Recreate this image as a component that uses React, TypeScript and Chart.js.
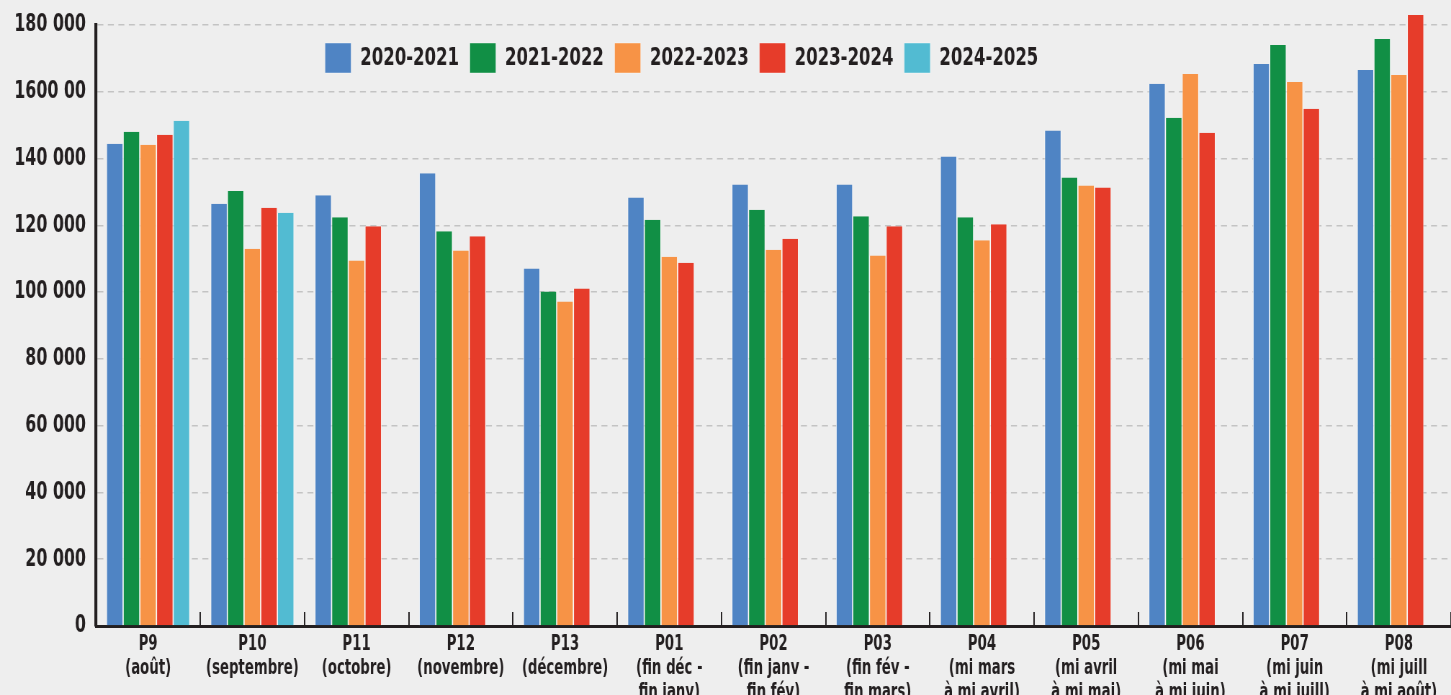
import React, { useEffect, useRef } from "react";
import { Chart, registerables } from "chart.js";

Chart.register(...registerables);

const categories: string[][] = [
  ["P9", "(août)"],
  ["P10", "(septembre)"],
  ["P11", "(octobre)"],
  ["P12", "(novembre)"],
  ["P13", "(décembre)"],
  ["P01", "(fin déc -", "fin janv)"],
  ["P02", "(fin janv -", "fin fév)"],
  ["P03", "(fin fév -", "fin mars)"],
  ["P04", "(mi mars", "à mi avril)"],
  ["P05", "(mi avril", "à mi mai)"],
  ["P06", "(mi mai", "à mi juin)"],
  ["P07", "(mi juin", "à mi juill)"],
  ["P08", "(mi juill", "à mi août)"],
];

const seriesNames = ["2020-2021", "2021-2022", "2022-2023", "2023-2024", "2024-2025"];

const values2020_2021 = [144400, 126500, 129000, 135600, 107100, 128300, 132200, 132200, 140600, 148400, 162400, 168300, 166500];
const values2021_2022 = [148000, 130300, 122400, 118200, 100200, 121700, 124700, 122700, 122400, 134300, 152200, 174000, 175800];
const values2022_2023 = [144100, 113000, 109500, 112500, 97200, 110600, 112700, 111000, 115500, 131900, 165300, 162900, 165000];
const values2023_2024 = [147100, 125300, 119700, 116700, 101100, 108800, 116000, 119700, 120300, 131300, 147700, 154900, 183000];
const values2024_2025 = [151300, 123800, null, null, null, null, null, null, null, null, null, null, null];

const seriesColors = ["#4f84c4", "#118f45", "#f79346", "#e63c2a", "#52bbd2"];

const yTickLabels = ["0", "20 000", "40 000", "60 000", "80 000", "100 000", "120 000", "140 000", "1600 00", "180 000"];

const FONT = "'DejaVu Sans Condensed', 'DejaVu Sans', sans-serif";
const TEXT = "#231f20";

// The canvas is drawn wider than shown and squeezed horizontally by CSS,
// which gives the condensed lettering of the original.
const VIEW_W = 1451;
const SQUEEZE = 0.72;
const CANVAS_W = Math.round(VIEW_W / SQUEEZE);
const CANVAS_H = 712;
const AXIS_Y = 626;
const h = (px: number) => px / SQUEEZE; // horizontal size in canvas units

const LEGEND_PAD = 15;

const legendPlacer = {
  id: "legendPlacer",
  beforeLayout(chart: any) {
    const lg = chart.legend;
    if (lg && !lg.__patched) {
      const origFit = lg.fit;
      lg.fit = function () {
        origFit.call(this);
        this.__h = this.height;
        this.height = 0;
      };
      lg.__patched = true;
    }
  },
  afterLayout(chart: any) {
    const lg = chart.legend;
    if (!lg) return;
    lg.left = h(325) - LEGEND_PAD;
    lg.right = lg.left + lg.width;
    lg.top = 43 - LEGEND_PAD;
    lg.bottom = lg.top + (lg.__h || 60);
  },
};

export default function App() {
  const ref = useRef<HTMLCanvasElement | null>(null);

  useEffect(() => {
    if (!ref.current) return;
    const all = [values2020_2021, values2021_2022, values2022_2023, values2023_2024, values2024_2025];
    const chart = new Chart(ref.current, {
      type: "bar",
      data: {
        labels: categories as any,
        datasets: all.map((d, i) => ({
          label: seriesNames[i],
          data: d as any,
          backgroundColor: seriesColors[i],
          borderColor: "#ffffff",
          borderWidth: { top: 0, right: h(0.6), bottom: 0, left: h(0.6) } as any,
          borderSkipped: false as any,
          categoryPercentage: 0.8,
          barPercentage: 1,
          clip: false as any,
        })),
      },
      plugins: [legendPlacer],
      options: {
        animation: false,
        responsive: false,
        maintainAspectRatio: false,
        devicePixelRatio: 1,
        layout: { padding: { top: 25, left: 0, right: h(-4), bottom: 0 } },
        plugins: {
          tooltip: { enabled: false },
          legend: {
            position: "top",
            align: "start",
            labels: {
              boxWidth: h(26),
              boxHeight: 30,
              padding: LEGEND_PAD,
              color: TEXT,
              font: { family: FONT, size: 25.5, weight: "bold" },
            },
          },
        },
        scales: {
          x: {
            offset: true,
            afterFit: (s: any) => {
              s.height = CANVAS_H - AXIS_Y;
              s.paddingLeft = 0;
              s.paddingRight = 0;
            },
            grid: {
              display: true,
              drawOnChartArea: false,
              drawTicks: true,
              tickLength: -14,
              color: TEXT,
              lineWidth: h(1.4),
            },
            border: { display: true, color: TEXT, width: 3 },
            ticks: {
              autoSkip: false,
              maxRotation: 0,
              minRotation: 0,
              padding: 21,
              color: TEXT,
              font: { family: FONT, size: 20.5, weight: "bold", lineHeight: "24px" } as any,
            },
          },
          y: {
            min: 0,
            max: 180000,
            afterFit: (s: any) => {
              s.width = h(96);
              s.paddingTop = 0;
              s.paddingBottom = 0;
            },
            grid: {
              color: "#c3c3c3",
              lineWidth: 1.6,
              drawTicks: false,
            },
            border: { display: true, color: TEXT, width: h(3), dash: [h(6), h(4.5)] },
            ticks: {
              stepSize: 20000,
              padding: h(10),
              color: TEXT,
              font: { family: FONT, size: 24.5, weight: "bold" },
              callback: (v: any) => yTickLabels[Math.round(Number(v) / 20000)] ?? "",
            },
          },
        },
      },
    });
    return () => chart.destroy();
  }, []);

  return (
    <div
      style={{
        position: "fixed",
        left: 0,
        top: 0,
        width: VIEW_W,
        height: 695,
        overflow: "hidden",
        background: "#eeeeee",
      }}
    >
      <canvas
        ref={ref}
        width={CANVAS_W}
        height={CANVAS_H}
        style={{ display: "block", width: VIEW_W, height: CANVAS_H }}
      />
    </div>
  );
}
